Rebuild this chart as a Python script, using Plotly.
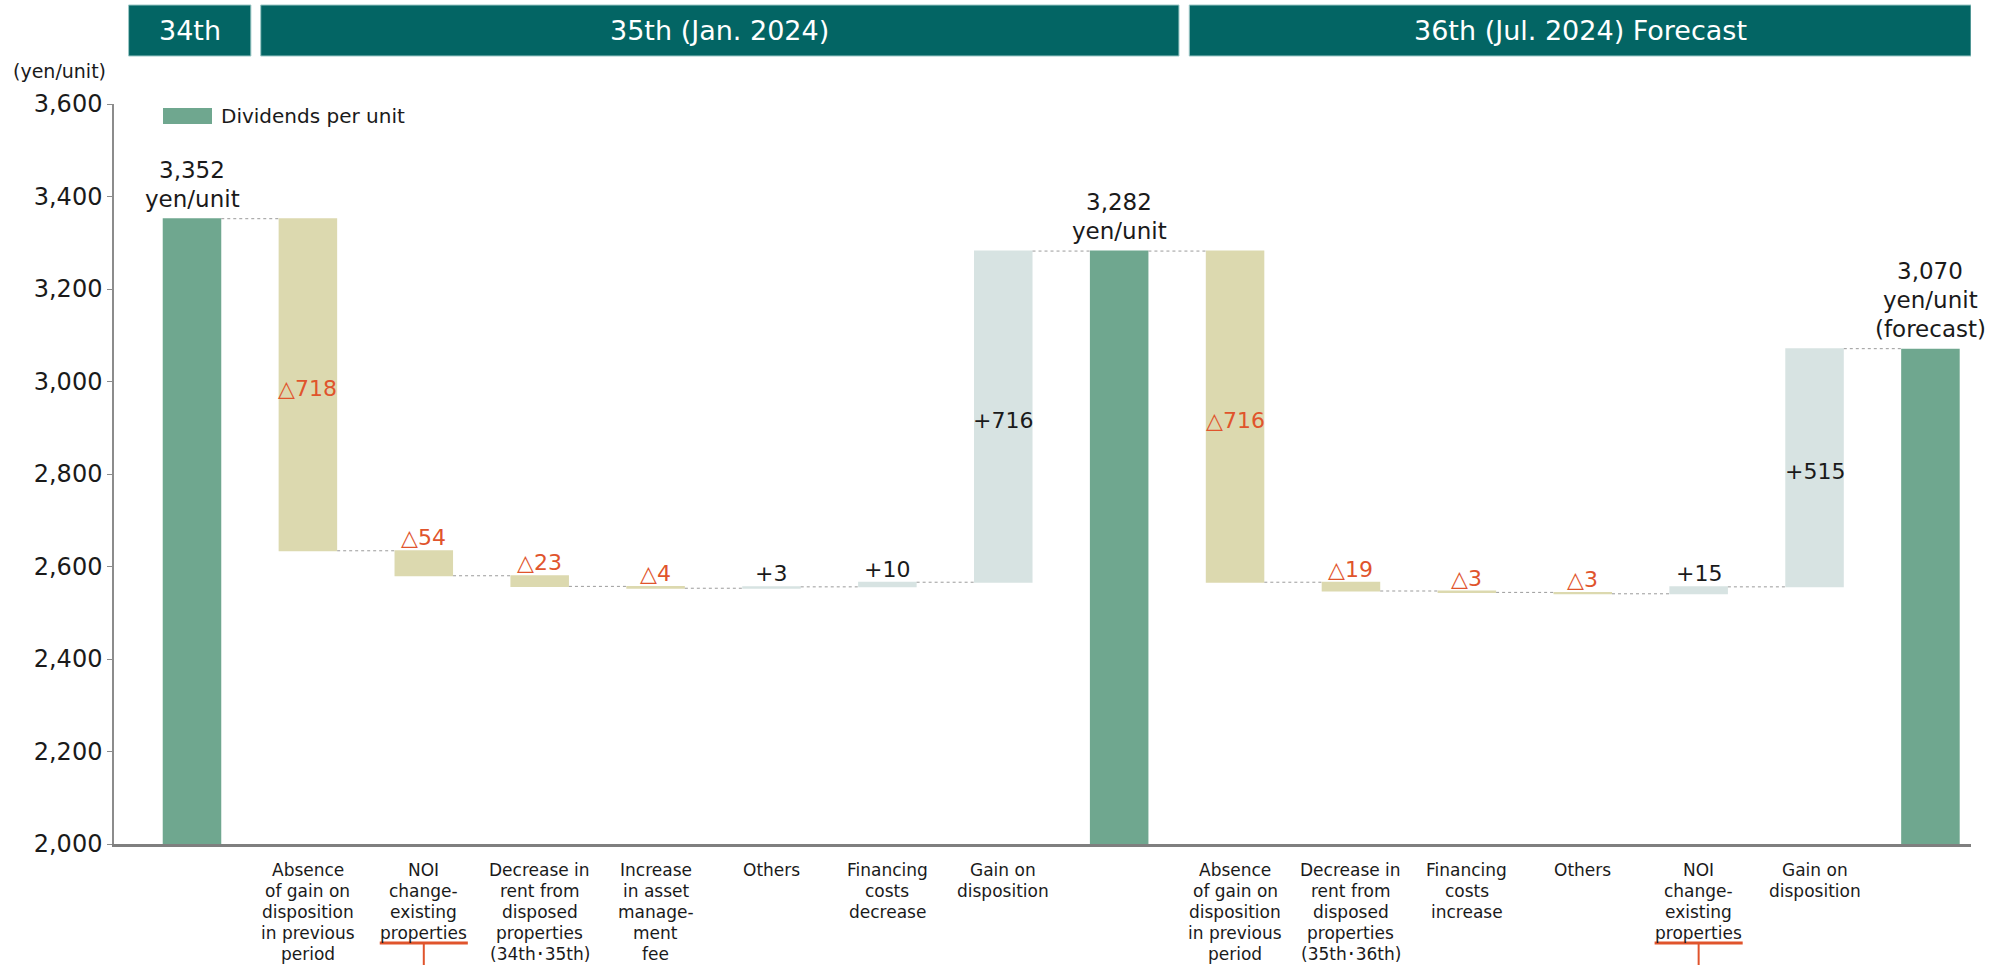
import plotly.graph_objects as go

# ---- data -------------------------------------------------------------
categories = [
    "",
    "Absence\nof gain on\ndisposition\nin previous\nperiod",
    "NOI\nchange-\nexisting\nproperties",
    "Decrease in\nrent from\ndisposed\nproperties\n(34th\uff6535th)",
    "Increase\nin asset\nmanage-\nment\nfee",
    "Others",
    "Financing\ncosts\ndecrease",
    "Gain on\ndisposition",
    "",
    "Absence\nof gain on\ndisposition\nin previous\nperiod",
    "Decrease in\nrent from\ndisposed\nproperties\n(35th\uff6536th)",
    "Financing\ncosts\nincrease",
    "Others",
    "NOI\nchange-\nexisting\nproperties",
    "Gain on\ndisposition",
    "",
]
values = [3352, -718, -54, -23, -4, 3, 10, 716,
          3282, -716, -19, -3, -3, 15, 515, 3070]
measures = ["absolute", "relative", "relative", "relative", "relative",
            "relative", "relative", "relative", "absolute", "relative",
            "relative", "relative", "relative", "relative", "relative",
            "absolute"]
total_notes = ["", "", "(forecast)"]
underlined = [2, 13]
period_labels = ["34th", "35th (Jan. 2024)", "36th (Jul. 2024) Forecast"]
legend_label = "Dividends per unit"
unit_label = "(yen/unit)"
y_ticks = [2000, 2200, 2400, 2600, 2800, 3000, 3200, 3400, 3600]

# ---- styling ----------------------------------------------------------
FONT = "DejaVu Sans, Verdana, sans-serif"
GREEN = "#6FA78F"
KHAKI = "#DCD9AF"
LIGHT = "#D7E3E2"
TEAL = "#036564"
ORANGE = "#E0542C"
INK = "#1a1a1a"

W, H = 2002, 965
L, R, T, B = 114, 31, 104, 121
PLOT_H = H - T - B
PLOT_W = W - L - R
X_RANGE = [-0.673, 15.35]

x = list(range(len(values)))

fig = go.Figure()
fig.add_trace(go.Waterfall(
    x=x, y=values, measure=measures, width=0.505,
    increasing=dict(marker=dict(color=LIGHT, line=dict(width=0))),
    decreasing=dict(marker=dict(color=KHAKI, line=dict(width=0))),
    totals=dict(marker=dict(color=GREEN, line=dict(width=0))),
    connector=dict(mode="between",
                   line=dict(color="#9b9b9b", width=1, dash="dot")),
    textposition="none", hoverinfo="skip", showlegend=False,
))

ann = []


def px_to_paper_y(py):
    return (H - B - py) / PLOT_H


def px_to_paper_x(px):
    return (px - L) / PLOT_W


# value labels
level = 0
total_idx = 0
for i, (v, m) in enumerate(zip(values, measures)):
    if m == "absolute":
        lines = [f"{v:,}", "yen/unit"]
        note = total_notes[total_idx]
        total_idx += 1
        if note:
            lines.append(note)
        for k, line in enumerate(reversed(lines)):
            ann.append(dict(x=i, y=v, xref="x", yref="y", text=line,
                            showarrow=False, yanchor="middle",
                            yshift=20 + 29 * k,
                            font=dict(size=23, color=INK, family=FONT)))
        level = v
        continue
    start, end = level, level + v
    level = end
    text = f"\u25b3{abs(v)}" if v < 0 else f"+{v}"
    color = ORANGE if v < 0 else INK
    if abs(v) >= 100:
        ypos, shift = (start + end) / 2, -4
    else:
        ypos, shift = max(start, end), 13
    ann.append(dict(x=i, y=ypos, xref="x", yref="y", text=text,
                    showarrow=False, yanchor="middle", yshift=shift,
                    font=dict(size=22, color=color, family=FONT)))

# category labels, one line at a time
for i, cat in enumerate(categories):
    if not cat:
        continue
    for k, line in enumerate(cat.split("\n")):
        ann.append(dict(x=i, y=0, xref="x", yref="paper", text=line,
                        showarrow=False, yanchor="middle",
                        yshift=-26 - 21 * k,
                        font=dict(size=17, color=INK, family=FONT)))

shapes = []
# orange underline markers under "NOI change-existing properties"
for i in underlined:
    y_line = px_to_paper_y(943)
    shapes.append(dict(type="line", xref="x", yref="paper",
                       x0=i - 0.38, x1=i + 0.38, y0=y_line, y1=y_line,
                       line=dict(color=ORANGE, width=3)))
    shapes.append(dict(type="line", xref="x", yref="paper",
                       x0=i, x1=i, y0=y_line, y1=px_to_paper_y(H + 5),
                       line=dict(color=ORANGE, width=2)))

# period header bands
band_edges = [(-0.547, 0.508), (0.593, 8.516), (8.605, X_RANGE[1])]
y_top, y_bot = px_to_paper_y(5), px_to_paper_y(56)
for label, (x0, x1) in zip(period_labels, band_edges):
    shapes.append(dict(type="rect", xref="x", yref="paper",
                       x0=x0, x1=x1, y0=y_bot, y1=y_top,
                       fillcolor=TEAL, line=dict(color="#9cc8c6", width=1),
                       layer="above"))
    ann.append(dict(x=(x0 + x1) / 2, y=(y_top + y_bot) / 2,
                    xref="x", yref="paper", text=label, showarrow=False,
                    yanchor="middle",
                    font=dict(size=27, color="white", family=FONT)))

# legend swatch
shapes.append(dict(type="rect", xref="paper", yref="paper",
                   x0=px_to_paper_x(163), x1=px_to_paper_x(212),
                   y0=px_to_paper_y(124), y1=px_to_paper_y(108),
                   fillcolor=GREEN, line=dict(width=0)))
ann.append(dict(x=px_to_paper_x(219), y=px_to_paper_y(116),
                xref="paper", yref="paper", text=legend_label,
                showarrow=False, xanchor="left", yanchor="middle",
                font=dict(size=20, color=INK, family=FONT)))

# unit caption
ann.append(dict(x=px_to_paper_x(11), y=px_to_paper_y(71),
                xref="paper", yref="paper", text=unit_label,
                showarrow=False, xanchor="left", yanchor="middle",
                font=dict(size=19, color=INK, family=FONT)))

fig.update_layout(
    width=W, height=H,
    margin=dict(l=L, r=R, t=T, b=B, pad=0),
    paper_bgcolor="white", plot_bgcolor="white",
    annotations=ann, shapes=shapes,
    showlegend=False,
    xaxis=dict(range=X_RANGE, showgrid=False, zeroline=False,
               showticklabels=False, ticks="", showline=True,
               linecolor="#7f7f7f", linewidth=3, fixedrange=True),
    yaxis=dict(range=[y_ticks[0], y_ticks[-1]], tickvals=y_ticks,
               tickformat=",", showgrid=False, zeroline=False,
               showline=True, linecolor="#8c8c8c", linewidth=1.5,
               ticks="outside", ticklen=5, tickcolor="#8c8c8c",
               tickfont=dict(size=24, color=INK, family=FONT),
               fixedrange=True),
)

fig.write_html("out.html")
